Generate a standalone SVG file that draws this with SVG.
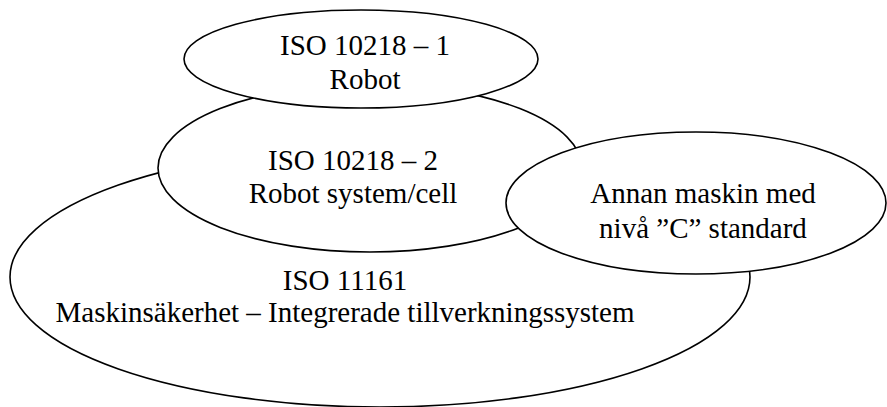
<svg xmlns="http://www.w3.org/2000/svg" width="887" height="407" viewBox="0 0 887 407">
<style>
.e{fill:#fff;stroke:#000;stroke-width:1.6}
.t{font-family:"Liberation Serif","Times New Roman",serif;font-size:29px;fill:#000;text-anchor:middle}
</style>
<rect width="887" height="407" fill="#fff"/>
<g id="connectors"></g>
<g id="iso11161">
<ellipse class="e" cx="380" cy="277" rx="370" ry="130"/>
<text class="t" x="345" y="290">ISO 11161</text>
<text class="t" x="345" y="322">Maskinsäkerhet – Integrerade tillverkningssystem</text>
</g>
<g id="iso10218-2">
<ellipse class="e" cx="370" cy="168" rx="212" ry="84"/>
<text class="t" x="353" y="170">ISO 10218 – 2</text>
<text class="t" x="353" y="203">Robot system/cell</text>
</g>
<g id="iso10218-1">
<ellipse class="e" cx="361" cy="59" rx="177" ry="49"/>
<text class="t" x="365" y="55">ISO 10218 – 1</text>
<text class="t" x="365" y="89">Robot</text>
</g>
<g id="annan">
<ellipse class="e" cx="696" cy="203" rx="190" ry="71"/>
<text class="t" x="703" y="203">Annan maskin med</text>
<text class="t" x="703" y="238">nivå ”C” standard</text>
</g>
</svg>
